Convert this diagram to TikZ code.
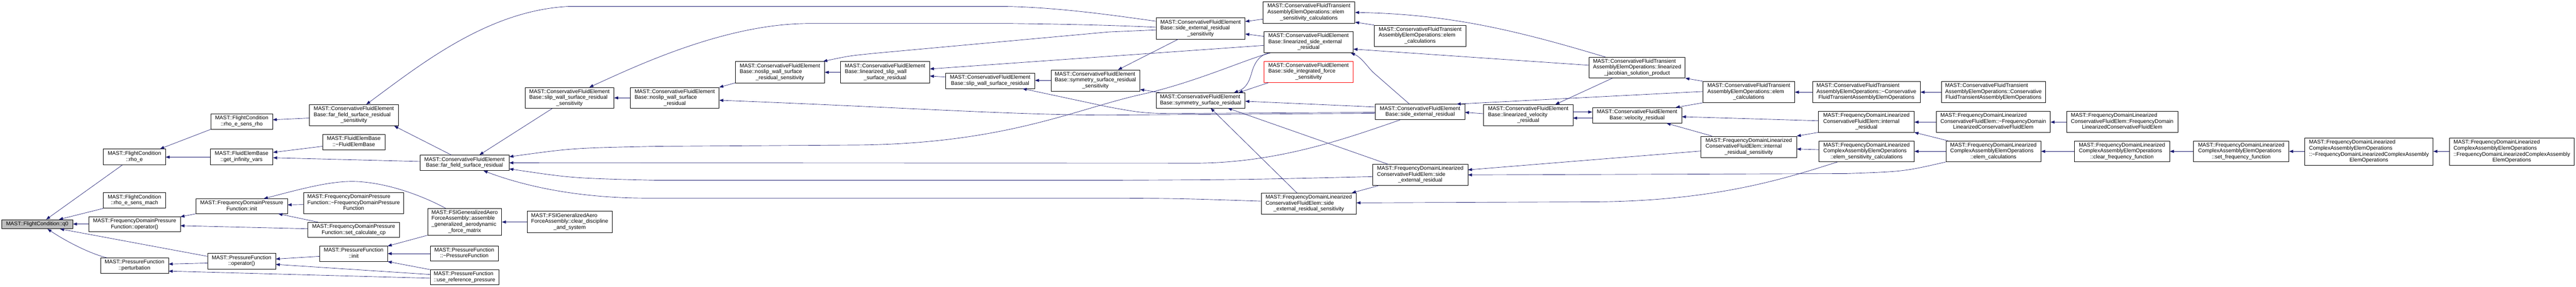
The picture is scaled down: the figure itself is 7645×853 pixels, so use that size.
\documentclass[tikz,border=0pt]{standalone}
\usepackage{fontspec}
\setmainfont{Liberation Sans}
\usetikzlibrary{arrows.meta}
\definecolor{dblue}{HTML}{191970}
\definecolor{rootgray}{HTML}{BFBFBF}
\newcommand\dtext[2]{\begin{tabular}{@{}l@{}}#1\\\multicolumn{1}{@{}c@{}}{#2}\end{tabular}}
\newcommand\bx[7][]{\node[dbox,#1,minimum width=#5pt-#3pt,minimum height=#6pt-#4pt] (#2) at ({(#3+#5)/2},{(#4+#6)/2}) {#7};}
\tikzset{
  dbox/.style={draw=black, fill=white, line width=1.1pt, inner sep=0pt, font=\fontsize{16}{17.7}\selectfont},
  edg/.style={{Triangle[length=12pt,width=9pt]}-, draw=dblue, fill=none, line width=1pt}
}
\begin{document}
\begin{tikzpicture}[x=1pt,y=-1pt]
\fill[white] (0,0) rectangle (7645,853);
\useasboundingbox (0,0) rectangle (7645,853);
% nodes
\bx[fill=rootgray]{q0}{5}{653}{216}{680}{MAST::FlightCondition::q0}
\bx{rhoe}{307}{443}{491}{490}{\dtext{MAST::FlightCondition}{::rho\_e}}
\bx{rhoesm}{307}{573}{491}{619}{\dtext{MAST::FlightCondition}{::rho\_e\_sens\_mach}}
\bx{fdpfop}{264}{645}{535}{689}{\dtext{MAST::FrequencyDomainPressure}{Function::operator()}}
\bx{pfpert}{298}{767}{500}{812}{\dtext{MAST::PressureFunction}{::perturbation}}
\bx{rhoesr}{626}{338}{809}{384}{\dtext{MAST::FlightCondition}{::rho\_e\_sens\_rho}}
\bx{getinf}{624}{443}{810}{490}{\dtext{MAST::FluidElemBase}{::get\_infinity\_vars}}
\bx{fdpfinit}{582}{591}{853}{635}{\dtext{MAST::FrequencyDomainPressure}{Function::init}}
\bx{pfop}{616}{753}{818}{800}{\dtext{MAST::PressureFunction}{::operator()}}
\bx{ffsens}{918}{311}{1182}{374}{\dtext{MAST::ConservativeFluidElement\\Base::far\_field\_surface\_residual}{\_sensitivity}}
\bx{dfeb}{957}{400}{1143}{445}{\dtext{MAST::FluidElemBase}{::\textasciitilde FluidElemBase}}
\bx{fdpfdtor}{901}{572}{1198}{635}{\dtext{MAST::FrequencyDomainPressure\\Function::\textasciitilde FrequencyDomainPressure}{Function}}
\bx{setcp}{914}{661}{1185}{706}{\dtext{MAST::FrequencyDomainPressure}{Function::set\_calculate\_cp}}
\bx{pfinit}{949}{732}{1150}{777}{\dtext{MAST::PressureFunction}{::init}}
\bx{ffres}{1246}{461}{1511}{507}{\dtext{MAST::ConservativeFluidElement}{Base::far\_field\_surface\_residual}}
\bx{fsiasm}{1269}{620}{1489}{699}{\dtext{MAST::FSIGeneralizedAero\\ForceAssembly::assemble\\\_generalized\_aerodynamic}{\_force\_matrix}}
\bx{pfdtor}{1277}{732}{1479}{775}{\dtext{MAST::PressureFunction}{::\textasciitilde PressureFunction}}
\bx{pfuse}{1277}{802}{1480}{846}{\dtext{MAST::PressureFunction}{::use\_reference\_pressure}}
\bx{swsens}{1558}{260}{1822}{322}{\dtext{MAST::ConservativeFluidElement\\Base::slip\_wall\_surface\_residual}{\_sensitivity}}
\bx{fsiclr}{1564}{628}{1817}{691}{\dtext{MAST::FSIGeneralizedAero\\ForceAssembly::clear\_discipline}{\_and\_system}}
\bx{nsres}{1871}{260}{2134}{322}{\dtext{MAST::ConservativeFluidElement\\Base::noslip\_wall\_surface}{\_residual}}
\bx{nssens}{2182}{183}{2447}{246}{\dtext{MAST::ConservativeFluidElement\\Base::noslip\_wall\_surface}{\_residual\_sensitivity}}
\bx{linsw}{2494}{183}{2759}{246}{\dtext{MAST::ConservativeFluidElement\\Base::linearized\_slip\_wall}{\_surface\_residual}}
\bx{swres}{2806}{218}{3071}{263}{\dtext{MAST::ConservativeFluidElement}{Base::slip\_wall\_surface\_residual}}
\bx{symsens}{3119}{208}{3383}{271}{\dtext{MAST::ConservativeFluidElement\\Base::symmetry\_surface\_residual}{\_sensitivity}}
\bx{sersens}{3431}{53}{3695}{116}{\dtext{MAST::ConservativeFluidElement\\Base::side\_external\_residual}{\_sensitivity}}
\bx{symres}{3431}{276}{3695}{321}{\dtext{MAST::ConservativeFluidElement}{Base::symmetry\_surface\_residual}}
\bx{tesens}{3748}{5}{4021}{69}{\dtext{MAST::ConservativeFluidTransient\\AssemblyElemOperations::elem}{\_sensitivity\_calculations}}
\bx{linser}{3751}{94}{4016}{157}{\dtext{MAST::ConservativeFluidElement\\Base::linearized\_side\_external}{\_residual}}
\bx[draw=red]{sifs}{3751}{182}{4016}{245}{\dtext{MAST::ConservativeFluidElement\\Base::side\_integrated\_force}{\_sensitivity}}
\bx{fdsers}{3743}{574}{4025}{636}{\dtext{MAST::FrequencyDomainLinearized\\ConservativeFluidElem::side}{\_external\_residual\_sensitivity}}
\bx{tecalc1}{4078}{75}{4351}{138}{\dtext{MAST::ConservativeFluidTransient\\AssemblyElemOperations::elem}{\_calculations}}
\bx{ser}{4082}{310}{4347}{356}{\dtext{MAST::ConservativeFluidElement}{Base::side\_external\_residual}}
\bx{linvel}{4403}{311}{4668}{374}{\dtext{MAST::ConservativeFluidElement\\Base::linearized\_velocity}{\_residual}}
\bx{fdser}{4074}{489}{4356}{551}{\dtext{MAST::FrequencyDomainLinearized\\ConservativeFluidElem::side}{\_external\_residual}}
\bx{linjac}{4716}{170}{5001}{232}{\dtext{MAST::ConservativeFluidTransient\\AssemblyElemOperations::linearized}{\_jacobian\_solution\_product}}
\bx{velres}{4726}{320}{4991}{366}{\dtext{MAST::ConservativeFluidElement}{Base::velocity\_residual}}
\bx{tecalc2}{5054}{242}{5326}{305}{\dtext{MAST::ConservativeFluidTransient\\AssemblyElemOperations::elem}{\_calculations}}
\bx{fdirs}{5048}{405}{5332}{468}{\dtext{MAST::FrequencyDomainLinearized\\ConservativeFluidElem::internal}{\_residual\_sensitivity}}
\bx{tedtor}{5379}{242}{5699}{305}{\dtext{MAST::ConservativeFluidTransient\\AssemblyElemOperations::\textasciitilde Conservative}{FluidTransientAssemblyElemOperations}}
\bx{fdir}{5397}{331}{5681}{393}{\dtext{MAST::FrequencyDomainLinearized\\ConservativeFluidElem::internal}{\_residual}}
\bx{fcsens}{5398}{419}{5681}{481}{\dtext{MAST::FrequencyDomainLinearized\\ComplexAssemblyElemOperations}{::elem\_sensitivity\_calculations}}
\bx{tector}{5761}{242}{6071}{305}{\dtext{MAST::ConservativeFluidTransient\\AssemblyElemOperations::Conservative}{FluidTransientAssemblyElemOperations}}
\bx{fddtor}{5746}{331}{6085}{393}{\dtext{MAST::FrequencyDomainLinearized\\ConservativeFluidElem::\textasciitilde FrequencyDomain}{LinearizedConservativeFluidElem}}
\bx{fccalc}{5775}{419}{6057}{481}{\dtext{MAST::FrequencyDomainLinearized\\ComplexAssemblyElemOperations}{::elem\_calculations}}
\bx{fdctor}{6133}{331}{6463}{393}{\dtext{MAST::FrequencyDomainLinearized\\ConservativeFluidElem::FrequencyDomain}{LinearizedConservativeFluidElem}}
\bx{fcclr}{6156}{419}{6439}{481}{\dtext{MAST::FrequencyDomainLinearized\\ComplexAssemblyElemOperations}{::clear\_frequency\_function}}
\bx{fcset}{6510}{419}{6793}{481}{\dtext{MAST::FrequencyDomainLinearized\\ComplexAssemblyElemOperations}{::set\_frequency\_function}}
\bx{fcdtor}{6840}{411}{7221}{491}{\dtext{MAST::FrequencyDomainLinearized\\ComplexAssemblyElemOperations\\::\textasciitilde FrequencyDomainLinearizedComplexAssembly}{ElemOperations}}
\bx{fcctor}{7269}{411}{7640}{491}{\dtext{MAST::FrequencyDomainLinearized\\ComplexAssemblyElemOperations\\::FrequencyDomainLinearizedComplexAssembly}{ElemOperations}}
% edges (arrow at callee)
\draw[edg] (q0.north -| 137,0) -- (rhoe.south -| 363,0);
\draw[edg] (q0.north -| 175,0) -- (rhoesm.south west);
\draw[edg] (q0.east |- 0,666) -- (fdpfop.west |- 0,666);
\draw[edg] (q0.south -| 178,0) -- (pfop.west |- 0,762);
\draw[edg] (q0.south -| 141,0) .. controls (200,720) and (270,755) .. (pfpert.north -| 318,0);
\draw[edg] (rhoe.north -| 475,0) -- (rhoesr.south west);
\draw[edg] (rhoe.east |- 0,467) -- (getinf.west |- 0,467);
\draw[edg] (fdpfop.north east) -- (fdpfinit.south west);
\draw[edg] (fdpfop.east |- 0,671) -- (setcp.west |- 0,680);
\draw[edg] (pfpert.east |- 0,785) -- (pfop.west |- 0,782);
\draw[edg] (pfpert.east |- 0,806) -- (pfuse.west |- 0,827);
\draw[edg] (rhoesr.east |- 0,356) -- (ffsens.west |- 0,351);
\draw[edg] (getinf.east |- 0,453) -- (dfeb.west |- 0,435);
\draw[edg] (getinf.east |- 0,469) -- (ffres.west |- 0,480);
\draw[edg] (ffsens.south -| 1170,0) -- (ffres.north -| 1339,0);
\draw[edg] (ffsens.north -| 1087,0) .. controls (1250,190) and (1450,30) .. (1690,19) -- (2980,19) .. controls (3150,22) and (3320,48) .. (sersens.west |- 0,63);
\draw[edg] (fdpfinit.east |- 0,609) -- (fdpfdtor.west |- 0,608);
\draw[edg] (fdpfinit.south -| 826,0) -- (setcp.north -| 944,0);
\draw[edg] (fdpfinit.north -| 783,0) .. controls (900,560) and (990,535) .. (1065,540) .. controls (1160,546) and (1260,585) .. (fsiasm.north -| 1323,0);
\draw[edg] (pfop.east |- 0,770) -- (pfinit.west |- 0,762);
\draw[edg] (pfop.east |- 0,786) -- (pfuse.west |- 0,816);
\draw[edg] (pfinit.east |- 0,754) -- (pfdtor.west |- 0,754);
\draw[edg] (pfinit.south east) -- (pfuse.north west);
\draw[edg] (pfinit.north east) -- (fsiasm.south west);
\draw[edg] (swsens.east |- 0,291) -- (nsres.west |- 0,291);
\draw[edg] (ffres.north -| 1423,0) -- (swsens.south -| 1639,0);
\draw[edg] (swsens.north -| 1749,0) .. controls (1880,200) and (2150,70) .. (2400,70) -- (3000,70) .. controls (3200,72) and (3350,77) .. (sersens.west |- 0,81);
\draw[edg] (ffres.east |- 0,466) .. controls (1700,440) .. (1950,435) -- (2560,431) .. controls (3000,424) and (3200,320) .. (3400,278) .. controls (3560,240) and (3700,175) .. (linser.south -| 3770,0);
\draw[edg] (ffres.east |- 0,484) -- (3560,485) .. controls (3800,482) and (4000,410) .. (ser.south -| 4155,0);
\draw[edg] (ffres.east |- 0,502) .. controls (1700,530) .. (1950,536) -- (3290,536) .. controls (3700,534) .. (fdser.west |- 0,525);
\draw[edg] (ffres.south -| 1435,0) .. controls (1560,555) and (1720,589) .. (1920,589) -- (3290,589) .. controls (3500,590) .. (fdsers.west |- 0,598);
\draw[edg] (fsiasm.east |- 0,660) -- (fsiclr.west |- 0,660);
\draw[edg] (nsres.north east) -- (nssens.south west);
\draw[edg] (nssens.east |- 0,215) -- (linsw.west |- 0,215);
\draw[edg] (nssens.north -| 2443,0) .. controls (2520,166) .. (2600,158) -- (3290,95) -- (sersens.west |- 0,89);
\draw[edg] (nsres.east |- 0,298) .. controls (2700,320) and (3000,342) .. (3290,342) -- (ser.west |- 0,337);
\draw[edg] (linsw.east |- 0,205) -- (linser.west |- 0,135);
\draw[edg] (linsw.east |- 0,226) -- (swres.west |- 0,229);
\draw[edg] (swres.east |- 0,239) -- (symsens.west |- 0,239);
\draw[edg] (swres.south -| 3035,0) -- (3290,318) .. controls (3400,338) .. (3550,337) -- (ser.west |- 0,334);
\draw[edg] (sersens.east |- 0,64) -- (tesens.west |- 0,57);
\draw[edg] (sersens.east |- 0,101) -- (linser.west |- 0,108);
\draw[edg] (symsens.north -| 3318,0) -- (sersens.south -| 3497,0);
\draw[edg] (symsens.east |- 0,266) -- (symres.north -| 3444,0);
\draw[edg] (symres.north -| 3662,0) .. controls (3700,262) and (3708,240) .. (3715,215) .. controls (3725,180) and (3742,163) .. (linser.south -| 3765,0);
\draw[edg] (symres.north -| 3676,0) -- (sifs.south -| 3765,0);
\draw[edg] (symres.east |- 0,301) -- (ser.west |- 0,318);
\draw[edg] (symres.south -| 3644,0) -- (fdser.north -| 4120,0);
\draw[edg] (symres.south -| 3593,0) -- (fdsers.north -| 3849,0);
\draw[edg] (fdsers.north -| 4012,0) -- (fdser.south -| 4092,0);
\draw[edg] (fdsers.east |- 0,603) -- (4750,600) .. controls (5100,595) and (5300,530) .. (fcsens.south -| 5453,0);
\draw[edg] (linser.south -| 4009,0) .. controls (4040,170) and (4058,198) .. (4075,215) -- (ser.north -| 4183,0);
\draw[edg] (linser.east |- 0,146) -- (linjac.west |- 0,194);
\draw[edg] (tesens.east |- 0,37) .. controls (4300,42) and (4500,90) .. (linjac.north -| 4764,0);
\draw[edg] (tesens.east |- 0,66) -- (tecalc1.north west);
\draw[edg] (ser.east |- 0,334) -- (linvel.west |- 0,338);
\draw[edg] (ser.north -| 4323,0) -- (tecalc2.west |- 0,272);
\draw[edg] (velres.west |- 0,333) -- (linvel.east |- 0,333);
\draw[edg] (linvel.east |- 0,351) -- (velres.west |- 0,351);
\draw[edg] (linvel.north -| 4616,0) -- (linjac.south -| 4785,0);
\draw[edg] (fdser.east |- 0,505) -- (fdirs.west |- 0,449);
\draw[edg] (fdser.east |- 0,520) -- (5480,516) .. controls (5650,510) .. (fccalc.south west);
\draw[edg] (linjac.south east) -- (tecalc2.north west);
\draw[edg] (tecalc2.east |- 0,274) -- (tedtor.west |- 0,274);
\draw[edg] (velres.north -| 4973,0) -- (tecalc2.south west);
\draw[edg] (velres.east |- 0,347) -- (fdir.west |- 0,359);
\draw[edg] (velres.south -| 4946,0) -- (fdirs.north -| 5081,0);
\draw[edg] (fdirs.north east) -- (fdir.south west);
\draw[edg] (fdirs.east |- 0,443) -- (fcsens.west |- 0,445);
\draw[edg] (tedtor.east |- 0,274) -- (tector.west |- 0,274);
\draw[edg] (fdir.east |- 0,363) -- (fddtor.west |- 0,363);
\draw[edg] (fddtor.east |- 0,363) -- (fdctor.west |- 0,363);
\draw[edg] (fdir.south east) -- (fccalc.north -| 5781,0);
\draw[edg] (fcsens.east |- 0,450) -- (fccalc.west |- 0,450);
\draw[edg] (fccalc.east |- 0,450) -- (fcclr.west |- 0,450);
\draw[edg] (fcclr.east |- 0,450) -- (fcset.west |- 0,450);
\draw[edg] (fcset.east |- 0,450) -- (fcdtor.west |- 0,450);
\draw[edg] (fcdtor.east |- 0,450) -- (fcctor.west |- 0,450);
\end{tikzpicture}
\end{document}
